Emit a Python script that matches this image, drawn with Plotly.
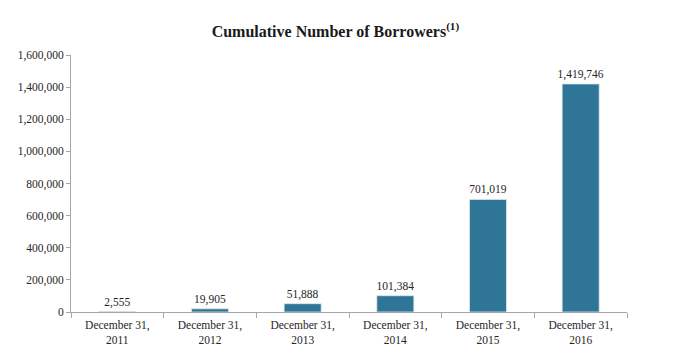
import plotly.graph_objects as go

categories = ["December 31,<br>2011", "December 31,<br>2012", "December 31,<br>2013",
              "December 31,<br>2014", "December 31,<br>2015", "December 31,<br>2016"]
borrowers = [2555, 19905, 51888, 101384, 701019, 1419746]
y_ticks = [0, 200000, 400000, 600000, 800000, 1000000, 1200000, 1400000, 1600000]

font_family = "Liberation Serif, Times New Roman, serif"
txt_color = "#262626"

fig = go.Figure(go.Bar(
    x=categories, y=borrowers,
    marker=dict(color="#2f7597", line=dict(color="#dfe9ee", width=0.8)),
    width=0.4,
    text=[f"{v:,}" for v in borrowers],
    textposition="outside",
    constraintext="none",
    textfont=dict(family=font_family, size=11.5, color=txt_color),
    cliponaxis=False,
))

fig.update_layout(
    width=693, height=358,
    margin=dict(l=71, r=66, t=55, b=42),
    paper_bgcolor="white", plot_bgcolor="white",
    showlegend=False,
    title=dict(text="<b>Cumulative Number of Borrowers<sup>(1)</sup></b>",
               x=0.484, xanchor="center", y=0.913, yanchor="middle",
               font=dict(family=font_family, size=16, color="#1a1a1a")),
    font=dict(family=font_family, size=11.5, color=txt_color),
)
fig.update_xaxes(
    showline=True, linecolor="#a6a6a6", linewidth=1,
    ticks="outside", ticklen=5, tickcolor="#a6a6a6",
    tickson="boundaries", showgrid=False, ticklabelstandoff=2,
    tickfont=dict(family=font_family, size=11.5, color=txt_color),
)
fig.update_yaxes(
    range=[0, 1600000], tickvals=y_ticks,
    ticktext=[f"{v:,}" for v in y_ticks],
    showline=True, linecolor="#a6a6a6", linewidth=1,
    ticks="outside", ticklen=4, tickcolor="#a6a6a6",
    showgrid=False, zeroline=False,
    tickfont=dict(family=font_family, size=11.5, color=txt_color),
)

fig.write_html("out.html", config={"displayModeBar": False},
               post_script="document.body.style.margin='0';")
